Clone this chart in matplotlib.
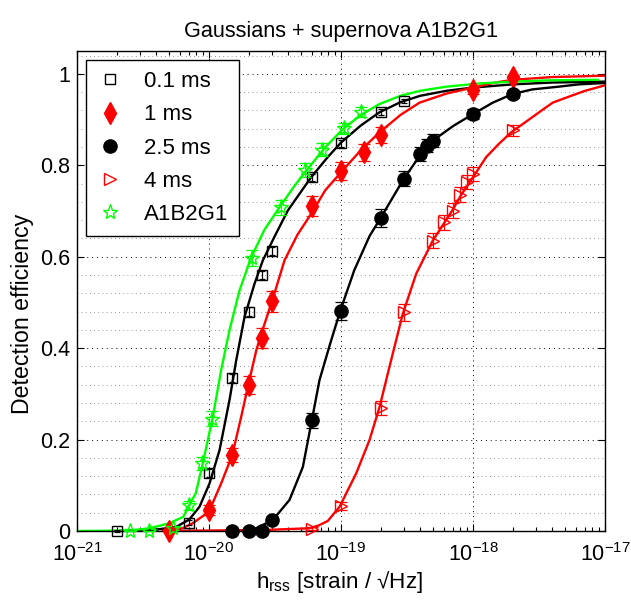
import numpy as np
import matplotlib
matplotlib.use("Agg")
import matplotlib.pyplot as plt
from matplotlib.ticker import FixedLocator, MultipleLocator, LogLocator, NullFormatter

plt.rcParams["font.family"] = ["Liberation Sans", "DejaVu Sans"]
plt.rcParams["mathtext.fontset"] = "custom"
plt.rcParams["mathtext.rm"] = "Liberation Sans"
plt.rcParams["mathtext.it"] = "Liberation Sans:italic"
plt.rcParams["mathtext.bf"] = "Liberation Sans:bold"

# ---- measured points (hrss, efficiency, error) ----
sq_h = [2e-21, 7e-21, 1e-20, 1.5e-20, 2e-20, 2.5e-20, 3e-20, 6e-20, 1e-19, 2e-19, 3e-19]
sq_eff = [0.0, 0.018, 0.127, 0.335, 0.480, 0.560, 0.612, 0.774, 0.848, 0.917, 0.941]
sq_err = [0.002, 0.005, 0.008, 0.009, 0.009, 0.009, 0.009, 0.008, 0.007, 0.006, 0.005]

dm_h = [5e-21, 1e-20, 1.5e-20, 2e-20, 2.5e-20, 3e-20, 6e-20, 1e-19, 1.5e-19, 2e-19, 1e-18, 2e-18]
dm_eff = [0.0, 0.046, 0.166, 0.319, 0.422, 0.503, 0.710, 0.787, 0.828, 0.866, 0.964, 0.994]
dm_err = [0.0, 0.011, 0.016, 0.02, 0.022, 0.023, 0.022, 0.02, 0.018, 0.017, 0.008, 0.004]

ci_h = [1.5e-20, 2e-20, 2.5e-20, 3e-20, 6e-20, 1e-19, 2e-19, 3e-19, 4e-19, 4.5e-19, 5e-19, 1e-18, 2e-18]
ci_eff = [0.0, 0.0, 0.0, 0.024, 0.242, 0.481, 0.685, 0.771, 0.825, 0.843, 0.854, 0.912, 0.956]
ci_err = [0.0, 0.0, 0.0, 0.006, 0.016, 0.02, 0.019, 0.017, 0.015, 0.014, 0.014, 0.011, 0.008]

tr_h = [6e-20, 1e-19, 2e-19, 3e-19, 5e-19, 6e-19, 7e-19, 8e-19, 9e-19, 1e-18, 2e-18]
tr_eff = [0.005, 0.055, 0.269, 0.478, 0.635, 0.675, 0.701, 0.736, 0.764, 0.781, 0.877]
tr_err = [0.003, 0.009, 0.016, 0.018, 0.017, 0.017, 0.017, 0.016, 0.015, 0.015, 0.012]

st_h = [2.5e-21, 3.5e-21, 5.3e-21, 7.1e-21, 8.9e-21, 1.06e-20, 2.1e-20, 3.5e-20, 5.3e-20, 7.2e-20, 1.05e-19, 1.42e-19]
st_eff = [0.0, 0.0, 0.006, 0.056, 0.148, 0.246, 0.597, 0.708, 0.790, 0.834, 0.881, 0.917]
st_err = [0.0, 0.0, 0.003, 0.01, 0.014, 0.016, 0.018, 0.016, 0.015, 0.014, 0.012, 0.011]

# ---- fitted curves (log10 hrss, efficiency) ----
fit_sq_logh = [-20.7, -20.4, -20.249, -20.15, -20.072, -19.996, -19.92, -19.845, -19.794, -19.731,
               -19.655, -19.592, -19.5, -19.403, -19.226, -19.1, -18.999, -18.85, -18.708, -18.55,
               -18.4, -18.2, -18.0, -17.7, -17.4, -17.0]
fit_sq_eff = [0.0, 0.003, 0.009, 0.025, 0.053, 0.104, 0.177, 0.286, 0.373, 0.468,
              0.541, 0.592, 0.646, 0.701, 0.774, 0.818, 0.850, 0.887, 0.916, 0.938,
              0.952, 0.963, 0.970, 0.977, 0.981, 0.983]

fit_dm_logh = [-20.35, -20.2, -20.123, -20.001, -19.908, -19.824, -19.756, -19.703, -19.642, -19.602,
               -19.521, -19.428, -19.33, -19.226, -19.12, -18.999, -18.85, -18.708, -18.55, -18.405,
               -18.2, -18.0, -17.85, -17.7, -17.4, -17.0]
fit_dm_eff = [0.0, 0.006, 0.017, 0.042, 0.104, 0.166, 0.250, 0.319, 0.395, 0.433,
              0.504, 0.592, 0.648, 0.694, 0.745, 0.785, 0.833, 0.872, 0.910, 0.937,
              0.957, 0.970, 0.980, 0.987, 0.993, 0.996]

fit_ci_logh = [-20.3, -19.8, -19.65, -19.517, -19.39, -19.289, -19.221, -19.163, -19.087, -19.004,
               -18.9, -18.784, -18.699, -18.523, -18.4, -18.304, -18.15, -18.0, -17.85, -17.7,
               -17.55, -17.35, -17.2, -17.0]
fit_ci_eff = [0.0, 0.0, 0.005, 0.024, 0.068, 0.140, 0.242, 0.330, 0.405, 0.483,
              0.570, 0.645, 0.685, 0.771, 0.822, 0.854, 0.886, 0.912, 0.937, 0.956,
              0.966, 0.972, 0.977, 0.980]

fit_tr_logh = [-20.3, -19.6, -19.239, -19.17, -19.1, -19.011, -18.885, -18.784, -18.708, -18.633,
               -18.532, -18.43, -18.305, -18.153, -18.09, -18.027, -17.9, -17.8, -17.711, -17.6,
               -17.47, -17.396, -17.294, -17.15, -17.0]
fit_tr_eff = [0.0, 0.002, 0.006, 0.012, 0.022, 0.053, 0.126, 0.199, 0.271, 0.359,
              0.475, 0.563, 0.635, 0.703, 0.735, 0.762, 0.818, 0.848, 0.872, 0.895,
              0.922, 0.937, 0.948, 0.963, 0.975]

fit_st_logh = [-21.0, -20.6, -20.45, -20.3, -20.195, -20.148, -20.1, -20.047, -19.971, -19.908,
               -19.845, -19.769, -19.68, -19.58, -19.466, -19.36, -19.264, -19.12, -18.987, -18.85,
               -18.708, -18.55, -18.4, -18.2, -17.95, -17.7, -17.4, -17.055]
fit_st_eff = [0.0, 0.001, 0.006, 0.017, 0.031, 0.057, 0.083, 0.148, 0.250, 0.352,
              0.439, 0.526, 0.599, 0.659, 0.708, 0.752, 0.788, 0.839, 0.879, 0.910,
              0.934, 0.952, 0.963, 0.972, 0.979, 0.983, 0.986, 0.987]

series = [
    ("0.1 ms", sq_h, sq_eff, sq_err, fit_sq_logh, fit_sq_eff, "black", "s", "none", 6.5, 2),
    ("1 ms", dm_h, dm_eff, dm_err, fit_dm_logh, fit_dm_eff, "#ff0000", "d", "#ff0000", 11, 4),
    ("2.5 ms", ci_h, ci_eff, ci_err, fit_ci_logh, fit_ci_eff, "black", "o", "black", 9.5, 4),
    ("4 ms", tr_h, tr_eff, tr_err, fit_tr_logh, fit_tr_eff, "#ff0000", ">", "none", 8.5, 4),
    ("A1B2G1", st_h, st_eff, st_err, fit_st_logh, fit_st_eff, "#00ff00", "*", "none", 11, 4),
]

fig = plt.figure(figsize=(6.31, 6.01), dpi=100)
ax = fig.add_axes([77 / 631, 1 - 531 / 601, 528 / 631, 480 / 601])

handles = []
for label, h, eff, err, flogh, feff, color, marker, mfc, ms, cap in series:
    ax.plot(10.0 ** np.array(flogh), feff, color=color, lw=1.7, zorder=2)
for label, h, eff, err, flogh, feff, color, marker, mfc, ms, cap in series:
    ax.errorbar(h, eff, yerr=err, fmt="none", ecolor=color, elinewidth=0.9,
                capsize=cap, capthick=0.9, zorder=3, clip_on=False)
    ln, = ax.plot(h, eff, linestyle="none", marker=marker, color=color, mfc=mfc,
                  mec=color, ms=ms, mew=1.0, zorder=4, clip_on=False, label=label)
    handles.append(ln)

ax.set_xscale("log")
ax.set_xlim(1e-21, 1e-17)
ax.set_ylim(0, 1.05)

ax.yaxis.set_major_locator(FixedLocator([0, 0.2, 0.4, 0.6, 0.8, 1.0]))
ax.set_yticklabels(["0", "0.2", "0.4", "0.6", "0.8", "1"])
ax.yaxis.set_minor_locator(MultipleLocator(0.04))
ax.xaxis.set_major_locator(LogLocator(base=10, numticks=10))
ax.xaxis.set_minor_locator(LogLocator(base=10, subs=np.arange(2, 10), numticks=20))
ax.xaxis.set_minor_formatter(NullFormatter())

ax.tick_params(which="both", direction="in", top=True, right=True, labelsize=15.5, width=0.8)
ax.tick_params(which="major", length=5)
ax.tick_params(axis="x", which="minor", length=3)
ax.tick_params(axis="y", which="minor", length=0)
ax.tick_params(axis="x", pad=9)
ax.tick_params(axis="y", pad=5)

ax.grid(True, which="major", axis="both", color="black", linestyle=(0, (1, 4)), lw=0.7)
ax.grid(True, which="minor", axis="y", color="#777777", linestyle=(0, (1, 4)), lw=0.6)
ax.set_axisbelow(True)
for sp in ax.spines.values():
    sp.set_linewidth(1.0)

leg = ax.legend(handles=handles, loc="upper left", bbox_to_anchor=(0.017, 0.981),
                borderaxespad=0, fontsize=16, frameon=True, fancybox=False,
                framealpha=1, edgecolor="black", handlelength=1.2, handletextpad=0.9,
                labelspacing=0.55, borderpad=0.5, numpoints=1)
leg.get_frame().set_linewidth(1.0)

fig.text(341 / 631, 1 - 31 / 601, "Gaussians + supernova A1B2G1", ha="center", va="center", fontsize=15.6)
fig.text(23 / 631, 1 - 314 / 601, "Detection efficiency", ha="center", va="center",
         rotation=90, fontsize=16.7)
fig.text(340 / 631, 1 - 588 / 601, r"h$_{\mathrm{rss}}$ [strain / √Hz]", ha="center",
         va="baseline", fontsize=16.2)

fig.savefig("out.png", dpi=100)
